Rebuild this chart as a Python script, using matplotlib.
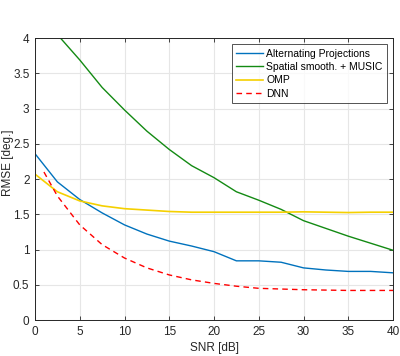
import numpy as np
import matplotlib
matplotlib.use("Agg")
import matplotlib.pyplot as plt

plt.rcParams['font.family'] = ['Liberation Sans', 'DejaVu Sans']

# SNR grid (dB)
snr = [0, 2.5, 5, 7.5, 10, 12.5, 15, 17.5, 20, 22.5, 25, 27.5, 30, 32.5, 35, 37.5, 40]

alt_proj = [2.36, 1.96, 1.71, 1.52, 1.35, 1.22, 1.12, 1.05, 0.97, 0.84, 0.84, 0.82,
            0.74, 0.71, 0.69, 0.69, 0.67]
music = [4.25, 4.05, 3.69, 3.30, 2.98, 2.68, 2.42, 2.19, 2.02, 1.82, 1.70, 1.57,
         1.41, 1.30, 1.19, 1.09, 0.99]
omp = [2.07, 1.82, 1.69, 1.62, 1.58, 1.56, 1.54, 1.53, 1.53, 1.53, 1.53, 1.53,
       1.535, 1.53, 1.525, 1.53, 1.53]

snr_dnn = [1, 2.5, 5, 7.5, 10, 12.5, 15, 17.5, 20, 22.5, 25, 27.5, 30, 32.5, 35, 37.5, 40]
dnn = [2.10, 1.76, 1.35, 1.07, 0.88, 0.74, 0.64, 0.57, 0.52, 0.48, 0.45, 0.44,
       0.43, 0.425, 0.42, 0.42, 0.42]

fig = plt.figure(figsize=(4.0, 3.56), dpi=100)
ax = fig.add_axes([0.0875, 0.101, 0.895, 0.792])

ax.plot(snr, alt_proj, color='#0072BD', lw=1.0, label='Alternating Projections')
ax.plot(snr, music, color='#138a13', lw=1.0, label='Spatial smooth. + MUSIC')
ax.plot(snr, omp, color='#F5D000', lw=1.2, label='OMP')
ax.plot(snr_dnn, dnn, color='#FF0000', lw=1.0, ls=(0, (4, 3)), label='DNN')

ax.set_xlim(0, 40)
ax.set_ylim(0, 4)
ax.set_xticks(np.arange(0, 41, 5))
ax.set_yticks(np.arange(0, 4.01, 0.5))
ax.set_yticklabels(['0', '0.5', '1', '1.5', '2', '2.5', '3', '3.5', '4'])
ax.grid(True, color='#e6e6e6', lw=0.8)
ax.set_axisbelow(True)
ax.tick_params(direction='in', top=True, right=True, labelsize=8.5,
               colors='#262626', length=3, width=0.6, pad=4)
for s in ax.spines.values():
    s.set_color('#262626')
    s.set_linewidth(0.7)

ax.set_xlabel('SNR [dB]', fontsize=8.5, color='#262626')
ax.set_ylabel('RMSE [deg.]', fontsize=8.5, color='#262626')
ax.xaxis.set_label_coords(0.5, -0.078)
ax.yaxis.set_label_coords(-0.058, 0.557)

leg = ax.legend(loc='upper right', fontsize=7.5, frameon=True, fancybox=False,
                edgecolor='#262626', handlelength=2.6, handletextpad=0.3,
                borderpad=0.4, labelspacing=0.32, borderaxespad=0.6)
leg.get_frame().set_linewidth(0.7)

fig.savefig('out.png', dpi=100)
